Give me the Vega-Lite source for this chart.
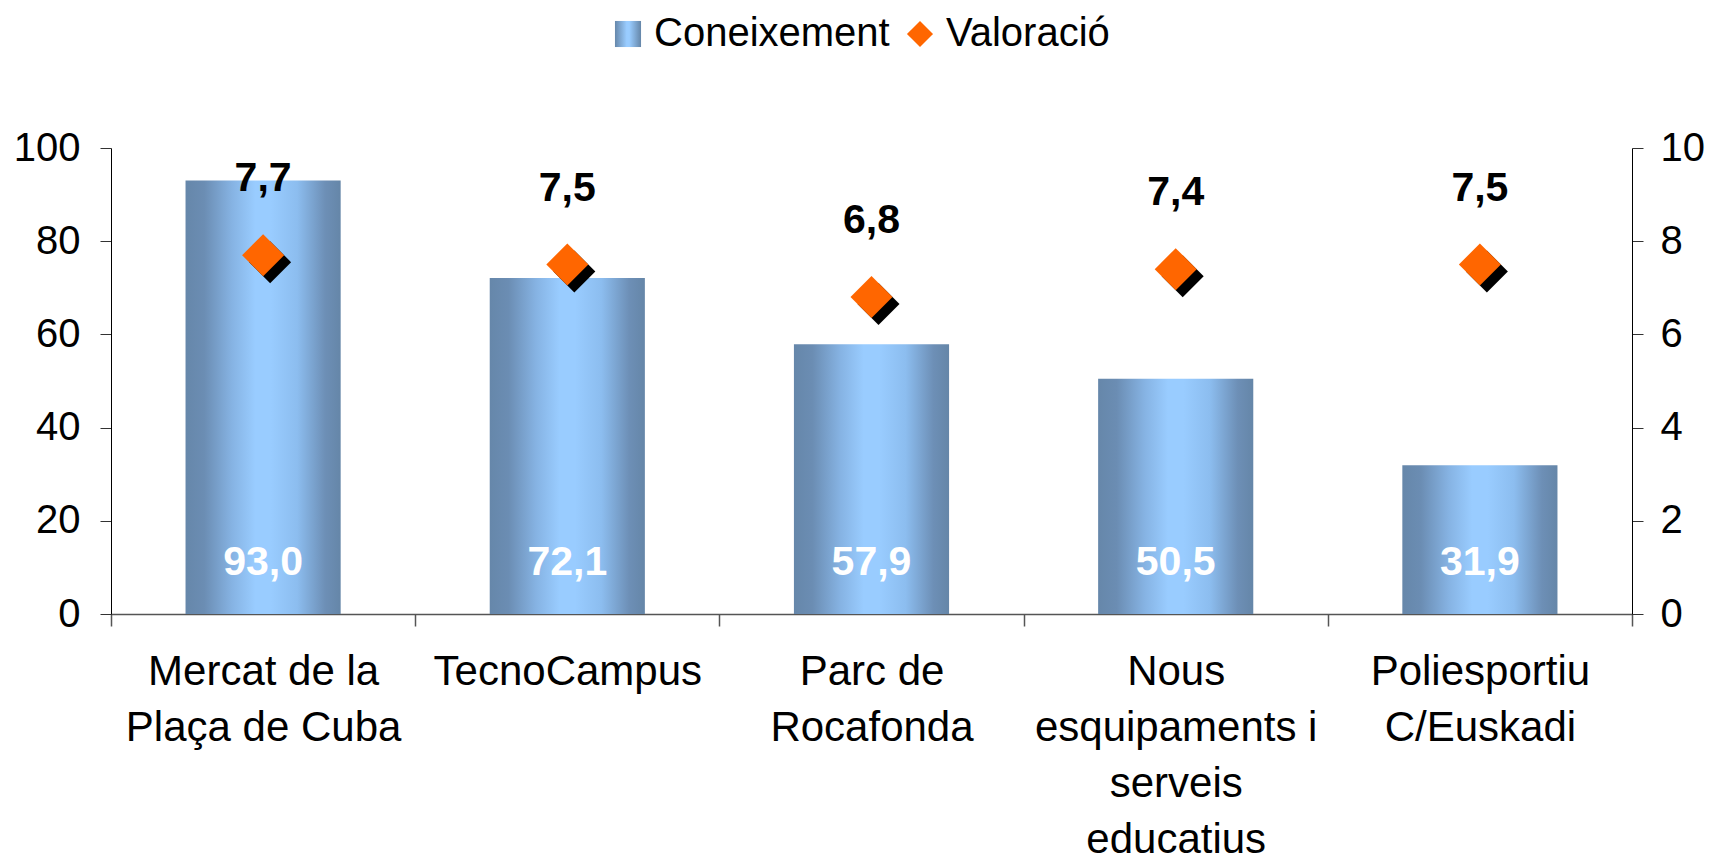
{
  "$schema": "https://vega.github.io/schema/vega-lite/v6.json",
  "width": 1521,
  "height": 466,
  "autosize": {"type": "none"},
  "padding": {"left": 111, "top": 148, "right": 80, "bottom": 249},
  "background": "white",
  "config": {
    "view": {"stroke": null},
    "axis": {"grid": false},
    "locale": {"number": {"decimal": ",", "thousands": ".", "grouping": [3], "currency": ["", " €"]}}
  },
  "data": {
    "values": [
      {"cat": "Mercat de la|Plaça de Cuba", "Coneixement": 93.0, "Valoracio": 7.7},
      {"cat": "TecnoCampus", "Coneixement": 72.1, "Valoracio": 7.5},
      {"cat": "Parc de|Rocafonda", "Coneixement": 57.9, "Valoracio": 6.8},
      {"cat": "Nous|esquipaments i|serveis|educatius", "Coneixement": 50.5, "Valoracio": 7.4},
      {"cat": "Poliesportiu|C/Euskadi", "Coneixement": 31.9, "Valoracio": 7.5}
    ]
  },
  "encoding": {
    "x": {
      "field": "cat",
      "type": "nominal",
      "sort": null,
      "scale": {"paddingInner": 0, "paddingOuter": 0},
      "axis": {
        "title": null,
        "labelAngle": 0,
        "labelExpr": "split(datum.label, '|')",
        "labelFont": "Liberation Sans",
        "labelFontSize": 42,
        "labelLineHeight": 56,
        "labelLimit": 0,
        "labelColor": "black",
        "labelPadding": 25,
        "labelBaseline": "top",
        "tickBand": "extent",
        "tickSize": 12,
        "tickColor": "#555555",
        "tickWidth": 1.5,
        "domainColor": "#555555",
        "domainWidth": 1.5
      }
    }
  },
  "layer": [
    {
      "layer": [
        {
          "mark": {
            "type": "bar",
            "width": {"band": 0.51},
            "color": {
              "gradient": "linear",
              "x1": 0, "y1": 0, "x2": 1, "y2": 0,
              "stops": [
                {"offset": 0, "color": "#6687aa"},
                {"offset": 0.12, "color": "#6b8db3"},
                {"offset": 0.3, "color": "#86b3e3"},
                {"offset": 0.45, "color": "#99ccff"},
                {"offset": 0.55, "color": "#99ccff"},
                {"offset": 0.72, "color": "#8cbdef"},
                {"offset": 0.9, "color": "#6d8fb6"},
                {"offset": 1, "color": "#6586a8"}
              ]
            }
          },
          "encoding": {
            "y": {
              "field": "Coneixement",
              "type": "quantitative",
              "scale": {"domain": [0, 100]},
              "axis": {
                "title": null,
                "orient": "left",
                "values": [0, 20, 40, 60, 80, 100],
                "labelFont": "Liberation Sans",
                "labelFontSize": 40,
                "labelColor": "black",
                "labelPadding": 20,
                "tickSize": 11,
                "tickColor": "#333333",
                "domainColor": "black",
                "domainWidth": 1
              }
            }
          }
        },
        {
          "mark": {"type": "text", "font": "Liberation Sans", "fontWeight": "bold", "fontSize": 41, "color": "white", "baseline": "middle", "align": "center"},
          "encoding": {
            "y": {"datum": 11, "type": "quantitative"},
            "text": {"field": "Coneixement", "type": "quantitative", "format": ".1f"}
          }
        }
      ]
    },
    {
      "layer": [
        {
          "mark": {"type": "point", "shape": "diamond", "filled": true, "size": 1764, "color": "black", "opacity": 1, "xOffset": 7, "yOffset": 7},
          "encoding": {
            "y": {
              "field": "Valoracio",
              "type": "quantitative",
              "scale": {"domain": [0, 10]},
              "axis": {
                "title": null,
                "orient": "right",
                "values": [0, 2, 4, 6, 8, 10],
                "labelFont": "Liberation Sans",
                "labelFontSize": 40,
                "labelColor": "black",
                "labelPadding": 17,
                "tickSize": 11,
                "tickColor": "#333333",
                "domainColor": "black",
                "domainWidth": 1
              }
            }
          }
        },
        {
          "mark": {"type": "point", "filled": true, "size": 1764, "opacity": 1},
          "encoding": {
            "y": {"field": "Valoracio", "type": "quantitative"},
            "fill": {
              "datum": "Valoració",
              "scale": {
                "domain": ["Coneixement", "Valoració"],
                "range": [
                  {"expr": "{gradient: 'linear', x1: 0, y1: 0, x2: 1, y2: 0, stops: [{offset: 0, color: '#6687aa'}, {offset: 0.45, color: '#99ccff'}, {offset: 0.55, color: '#99ccff'}, {offset: 1, color: '#6586a8'}]}"},
                  "#FF6600"
                ]
              },
              "legend": {
                "title": null,
                "orient": "none",
                "legendX": 497,
                "legendY": -134,
                "direction": "horizontal",
                "padding": 0,
                "labelFont": "Liberation Sans",
                "labelFontSize": 40,
                "labelLimit": 0,
                "labelColor": "black",
                "labelOffset": 6,
                "columnPadding": 10,
                "symbolStrokeWidth": 0,
                "symbolSize": 680
              }
            },
            "shape": {
              "datum": "Valoració",
              "scale": {"domain": ["Coneixement", "Valoració"], "range": ["square", "diamond"]},
              "legend": {
                "title": null,
                "orient": "none",
                "legendX": 497,
                "legendY": -134,
                "direction": "horizontal",
                "padding": 0,
                "labelFont": "Liberation Sans",
                "labelFontSize": 40,
                "labelLimit": 0,
                "labelColor": "black",
                "labelOffset": 6,
                "columnPadding": 10,
                "symbolStrokeWidth": 0,
                "symbolSize": 680
              }
            }
          }
        },
        {
          "mark": {"type": "text", "font": "Liberation Sans", "fontWeight": "bold", "fontSize": 41, "color": "black", "baseline": "middle", "align": "center", "dy": -76},
          "encoding": {
            "y": {"field": "Valoracio", "type": "quantitative"},
            "text": {"field": "Valoracio", "type": "quantitative", "format": ".1f"}
          }
        }
      ]
    }
  ],
  "resolve": {"scale": {"y": "independent"}}
}
